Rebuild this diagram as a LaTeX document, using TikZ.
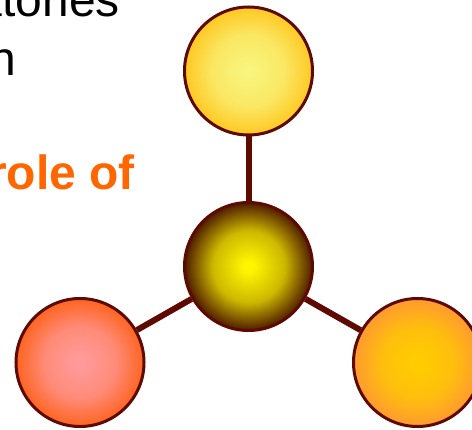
\documentclass[tikz,border=0pt]{standalone}
\usepackage{fontspec}
\setmainfont{Liberation Sans}
\usetikzlibrary{positioning,calc}
\definecolor{ringbrown}{HTML}{5E0A00}
\definecolor{labelorange}{HTML}{FF6600}
\definecolor{topin}{HTML}{F8F47C}
\definecolor{topout}{HTML}{FFC823}
\definecolor{midin}{HTML}{FFF500}
\definecolor{midout}{HTML}{4E1C00}
\definecolor{leftin}{HTML}{FF9A9A}
\definecolor{leftout}{HTML}{FF6420}
\definecolor{rightin}{HTML}{FFCC00}
\definecolor{rightout}{HTML}{FF9A30}
% colours that the ball shading reads
\colorlet{ballin}{white}
\colorlet{ballmid}{gray}
\colorlet{ballout}{black}
\pgfdeclareradialshading[ballin,ballmid,ballout]{ballshade}{\pgfpoint{0bp}{0bp}}{%
  color(0bp)=(ballin); color(2bp)=(ballin); color(14bp)=(ballmid);
  color(25bp)=(ballout); color(50bp)=(ballout)}
\tikzset{
  ball/.style 2 args={circle,draw=ringbrown,line width=3pt,minimum size=128pt,
    /utils/exec={\colorlet{ballin}{#1}\colorlet{ballmid}{#1!72!#2}\colorlet{ballout}{#2}},
    shading=ballshade},
  link/.style={draw=ringbrown,line width=6pt},
  bigtext/.style={font=\fontsize{48}{58}\selectfont,inner sep=0pt}
}

\begin{document}
\begin{tikzpicture}[x=1pt,y=-1pt]
\clip (0,0) rectangle (472,430);
\node[bigtext,anchor=base east] (lineone) at (120,17) {atories};
\node[bigtext,anchor=base east] (linetwo) at (16,76) {n};
\node[bigtext,anchor=base west,text=labelorange,font=\fontsize{48}{58}\selectfont\bfseries] (role) at (-12,190) {role of};

\node[ball={topin}{topout}] (top) at (248.5,71) {};
\node[ball={midin}{midout}] (mid) at (248.5,266.5) {};
\node[ball={leftin}{leftout}] (left) at (80,362.5) {};
\node[ball={rightin}{rightout}] (right) at (417.5,362.5) {};

\draw[link] (top) -- (mid);
\draw[link] (mid) -- (left);
\draw[link] (mid) -- (right);
\end{tikzpicture}
\end{document}
